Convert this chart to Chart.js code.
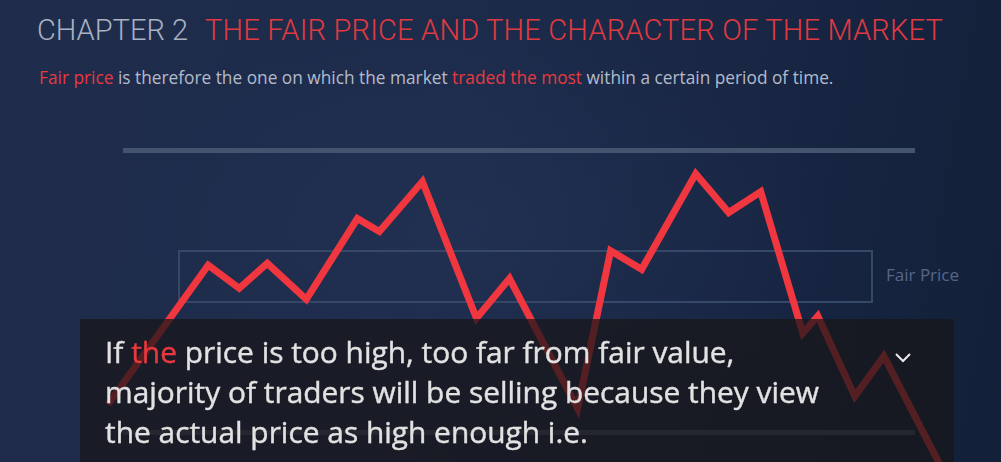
<!DOCTYPE html>
<html>
<head>
<meta charset="utf-8">
<script src="https://cdn.jsdelivr.net/npm/chart.js@4"></script>
<style>
	html, body {
		margin: 0;
		padding: 0;
		width: 1001px;
		height: 462px;
		overflow: hidden;
	}
	#stage {
		position: relative;
		width: 1001px;
		height: 462px;
		background:
			radial-gradient(ellipse 520px 300px at 470px 230px, rgba(40, 58, 94, 0.35), rgba(40, 58, 94, 0) 70%),
			linear-gradient(100deg, #1f2c4b 0%, #1d2b4b 45%, #172441 80%, #132038 100%);
		font-family: 'Open Sans', sans-serif;
	}
	.title {
		position: absolute;
		left: 37px;
		top: 13px;
		font-family: Roboto, 'Liberation Sans', sans-serif;
		font-weight: 300;
		font-size: 29px;
		white-space: nowrap;
		color: #a9b1c2;
	}
	.title .red {
		color: #e03a40;
		margin-left: 17px;
		letter-spacing: 0.2px;
	}
	.lead {
		position: absolute;
		left: 39px;
		top: 66px;
		font-size: 17.3px;
		white-space: nowrap;
		color: #b3bbcb;
	}
	.red {
		color: #e8393f;
	}
	.bar {
		position: absolute;
		left: 123px;
		width: 792px;
		height: 5px;
		background: #44546f;
	}
	#fair_box {
		position: absolute;
		left: 178px;
		top: 250px;
		width: 691px;
		height: 49px;
		border: 2px solid #364868;
	}
	#fair_label {
		position: absolute;
		left: 886px;
		top: 263px;
		font-size: 17px;
		color: #56668a;
		white-space: nowrap;
	}
	#main_chart {
		position: absolute;
		left: 0;
		top: 0;
	}
	#caption {
		position: absolute;
		left: 80px;
		top: 319px;
		width: 874px;
		height: 143px;
		background: rgba(23, 22, 24, 0.72);
	}
	#caption p {
		position: absolute;
		left: 25px;
		top: 13px;
		margin: 0;
		font-size: 29.9px;
		line-height: 40px;
		color: #e2e2e2;
		-webkit-text-stroke: 0.4px #e2e2e2;
		white-space: nowrap;
	}
	#caption p .red {
		-webkit-text-stroke: 0.4px #e8393f;
	}
	#chevron {
		position: absolute;
		left: 894px;
		top: 350px;
	}
</style>
</head>
<body>
<div id="stage">
	<div class="title">CHAPTER 2<span class="red">THE FAIR PRICE AND THE CHARACTER OF THE MARKET</span></div>
	<div class="lead"><span class="red">Fair price</span> is therefore the one on which the market <span class="red">traded the most</span> within a certain period of time.</div>
	<div class="bar" style="top:148px"></div>
	<div class="bar" style="top:430px"></div>
	<div id="fair_box"></div>
	<div id="fair_label">Fair Price</div>
	<canvas id="main_chart" width="1001" height="462"></canvas>
	<div id="caption">
		<p>If <span class="red">the</span> price is too high, too far from fair value,<br>majority of traders will be selling because they view<br>the actual price as high enough i.e.</p>
	</div>
	<svg id="chevron" width="18" height="14"><polyline points="2,4 9,11 16,4" fill="none" stroke="#ececec" stroke-width="2"/></svg>
</div>
<script>
// price path (time units 0-100, price units 0-100)
const times = [10.8, 20.8, 23.9, 26.7, 30.6, 35.7, 37.9, 42.2, 47.6, 50.9, 57.7, 61.0, 64.1, 69.5, 72.8, 76.0, 80.2, 81.7, 85.4, 88.3, 95.0]
const prices = [12.5, 42.6, 37.6, 43.0, 35.2, 52.7, 49.9, 60.7, 31.1, 39.7, 11.6, 45.7, 41.7, 62.4, 54.0, 58.5, 27.9, 31.6, 14.2, 22.9, -5.2]

const ctx = document.getElementById('main_chart')

new Chart(ctx, {
	type: 'scatter',
	data: {
		datasets: [
			{
				label: 'Price',
				data: times.map((t, i) => ({ x: t, y: prices[i] })),
				showLine: true,
				borderColor: '#f0363e',
				borderWidth: 7,
				borderJoinStyle: 'miter',
				pointRadius: 0,
				fill: false,
			},
		],
	},
	options: {
		responsive: false,
		animation: false,
		devicePixelRatio: 1,
		layout: { padding: 0 },
		elements: {
			line: { tension: 0 },
		},
		scales: {
			x: { type: 'linear', min: 0, max: 100, display: false },
			y: { type: 'linear', min: 0, max: 100, display: false },
		},
		plugins: {
			legend: false,
			tooltip: { enabled: false },
		},
	},
})
</script>
</body>
</html>
